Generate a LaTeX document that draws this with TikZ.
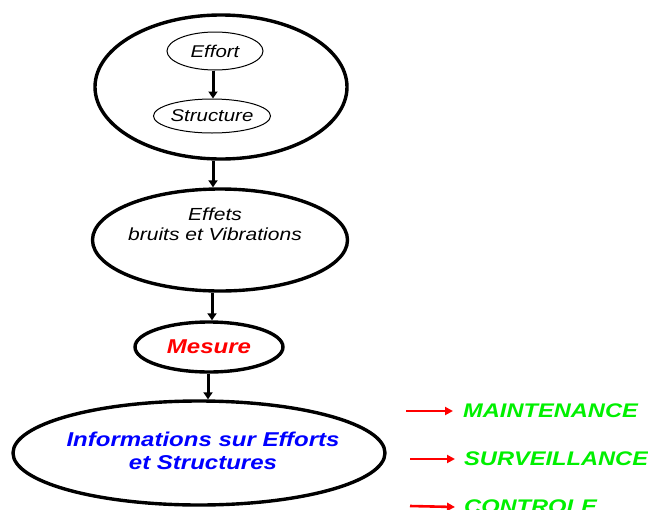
\documentclass[tikz,border=0pt]{standalone}
\usepackage{fontspec}
\setmainfont{Liberation Sans}[FakeStretch=1.2]
\usetikzlibrary{shapes.geometric,arrows.meta}
\definecolor{vgreen}{RGB}{0,240,0}
\definecolor{vblue}{RGB}{0,0,255}
\definecolor{vred}{RGB}{255,0,0}
\tikzset{
  bigell/.style={ellipse,draw,line width=3.4pt,inner sep=0pt},
  smallell/.style={ellipse,draw,line width=1pt,inner sep=0pt},
  blkarr/.style={line width=3pt,-{Triangle[length=7pt,width=9pt]}},
  redarr/.style={line width=2.6pt,draw=vred,-{Triangle[length=8pt,width=8pt]},vred},
  lbl/.style={inner sep=0pt,align=center},
  outtxt/.style={inner sep=0pt,anchor=west,text=vgreen,font=\fontsize{19.7}{22}\selectfont\bfseries\itshape}
}
\begin{document}
\begin{tikzpicture}[x=1pt,y=-1pt]
\useasboundingbox (0,0) rectangle (648,509);
\clip (0,0) rectangle (648,509);
\fill[white] (0,0) rectangle (648,509);
% top ellipse group
\node[bigell,minimum width=252pt,minimum height=144pt] (big) at (221,87) {};
\node[smallell,minimum width=96pt,minimum height=38pt,font=\fontsize{17}{20}\selectfont\itshape] (effort) at (215,51) {Effort};
\node[smallell,minimum width=116pt,minimum height=34pt,font=\fontsize{17}{20}\selectfont\itshape] (structure) at (212,116) {Structure};
\draw[blkarr] ([xshift=-2pt]effort.south) -- ([xshift=1pt]structure.north);
% effets
\node[bigell,minimum width=255pt,minimum height=102pt] (effets) at (220,240) {};
\node[lbl,font=\fontsize{17.5}{20}\selectfont\itshape] (effetstxt) at (215,224) {Effets\\bruits et Vibrations};
\draw[blkarr] ([xshift=-8pt]big.south) -- ([xshift=-7pt]effets.north);
% mesure
\node[bigell,minimum width=148pt,minimum height=50pt,text=vred,font=\fontsize{20}{22}\selectfont\bfseries\itshape] (mesure) at (209,347) {Mesure};
\draw[blkarr] ([xshift=-8pt]effets.south) -- ([xshift=3pt]mesure.north);
% informations
\node[bigell,minimum width=372pt,minimum height=104pt] (info) at (199,453) {};
\node[lbl,text=vblue,font=\fontsize{20}{23}\selectfont\bfseries\itshape] (infotxt) at (203,451) {Informations sur Efforts\\et Structures};
\draw[blkarr] ([xshift=-1pt]mesure.south) -- ([xshift=9pt]info.north);
% outputs
\node[outtxt] (maint) at (463,411) {MAINTENANCE};
\node[outtxt] (surv) at (464,459) {SURVEILLANCE};
\node[outtxt] (ctrl) at (464,507) {CONTROLE};
\coordinate (a1) at (406,411);
\coordinate (a2) at (410,459);
\coordinate (a3) at (410,506);
\draw[redarr] (a1) -- ([xshift=-10pt]maint.west);
\draw[redarr] (a2) -- ([xshift=-9pt]surv.west);
\draw[redarr] (a3) -- ([xshift=-9pt]ctrl.west);
\end{tikzpicture}
\end{document}
